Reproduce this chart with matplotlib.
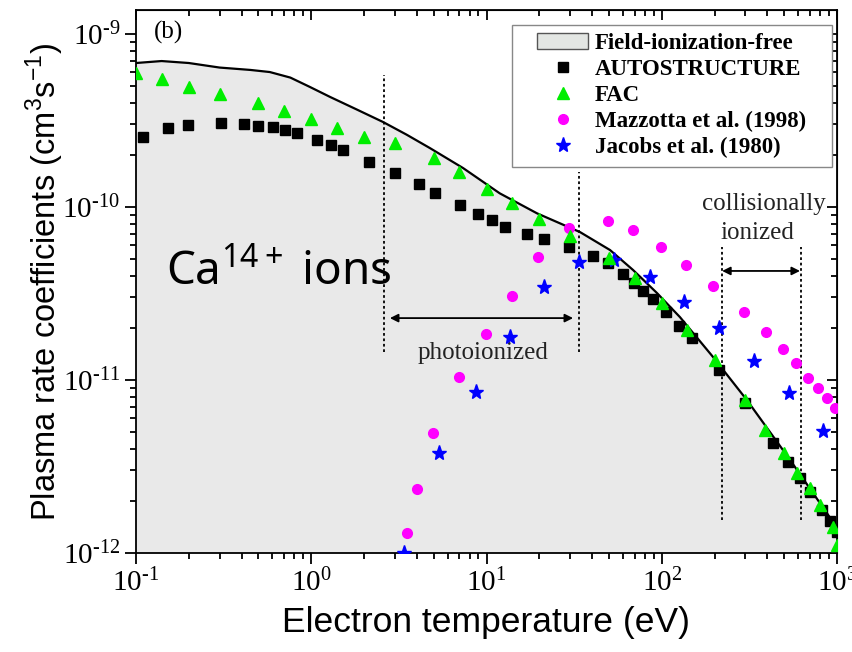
import numpy as np
import matplotlib
matplotlib.use('Agg')
from matplotlib import pyplot as plt
from matplotlib.ticker import NullFormatter, FuncFormatter

# 数据
curve_T = [0.1, 0.14, 0.2, 0.3, 0.45, 0.58, 0.76, 0.98, 1.28, 1.8, 2.57, 3.5,
           4.76, 7.35, 11.9, 19.4, 34.2, 50.7, 68.5, 94.0, 127, 196, 306, 540, 1000]
curve_k = [6.8e-10, 6.98e-10, 6.8e-10, 6.4e-10, 6.2e-10, 6.03e-10, 5.6e-10,
           4.95e-10, 4.33e-10, 3.68e-10, 3.10e-10, 2.62e-10, 2.19e-10, 1.68e-10,
           1.20e-10, 9.2e-11, 7.16e-11, 5.64e-11, 4.33e-11, 3.18e-11, 2.31e-11,
           1.36e-11, 7.66e-12, 3.45e-12, 1.40e-12]

auto_T = [0.11, 0.152, 0.198, 0.306, 0.413, 0.497, 0.605, 0.708, 0.83, 1.08, 1.30,
          1.52, 2.14, 3.0, 4.12, 5.09, 7.06, 8.94, 10.7, 12.8, 17.0, 21.3, 29.6,
          40.5, 49.4, 60.1, 69.5, 78.2, 89.2, 106, 125, 149, 212, 299, 431, 525,
          615, 701, 821, 912, 1000]
auto_k = [2.54e-10, 2.86e-10, 2.98e-10, 3.06e-10, 3.02e-10, 2.94e-10, 2.90e-10,
          2.79e-10, 2.68e-10, 2.44e-10, 2.28e-10, 2.13e-10, 1.82e-10, 1.57e-10,
          1.36e-10, 1.21e-10, 1.03e-10, 9.12e-11, 8.42e-11, 7.66e-11, 6.98e-11,
          6.53e-11, 5.87e-11, 5.21e-11, 4.75e-11, 4.10e-11, 3.64e-11, 3.27e-11,
          2.94e-11, 2.47e-11, 2.05e-11, 1.75e-11, 1.14e-11, 7.36e-12, 4.32e-12,
          3.36e-12, 2.72e-12, 2.25e-12, 1.77e-12, 1.53e-12, 1.32e-12]

fac_T = [0.1, 0.14, 0.2, 0.3, 0.5, 0.7, 1.0, 1.4, 2.0, 3.0, 5.0, 7.0, 10, 14, 20,
         30, 50, 70, 100, 140, 200, 300, 390, 500, 590, 700, 800, 950, 1000]
fac_k = [5.96e-10, 5.5e-10, 4.94e-10, 4.5e-10, 3.99e-10, 3.59e-10, 3.23e-10,
         2.86e-10, 2.54e-10, 2.34e-10, 1.92e-10, 1.59e-10, 1.27e-10, 1.05e-10,
         8.5e-11, 6.8e-11, 5.07e-11, 3.89e-11, 2.79e-11, 1.95e-11, 1.30e-11,
         7.66e-12, 5.14e-12, 3.79e-12, 2.90e-12, 2.37e-12, 1.89e-12, 1.41e-12,
         1.11e-12]

mazz_T = [3.52, 4.01, 4.95, 6.97, 9.93, 14.0, 19.7, 29.6, 49.4, 68.5, 99, 138,
          196, 294, 393, 492, 584, 683, 779, 877, 974]
mazz_k = [1.31e-12, 2.34e-12, 4.94e-12, 1.04e-11, 1.85e-11, 3.06e-11, 5.14e-11,
          7.57e-11, 8.30e-11, 7.36e-11, 5.87e-11, 4.62e-11, 3.49e-11, 2.47e-11,
          1.89e-11, 1.51e-11, 1.25e-11, 1.03e-11, 9.0e-12, 7.87e-12, 6.9e-12]

jac_T = [3.38, 5.36, 8.71, 13.6, 21.3, 33.7, 53.4, 85.8, 134, 212, 336, 532, 832]
jac_k = [1.0e-12, 3.79e-12, 8.53e-12, 1.77e-11, 3.45e-11, 4.81e-11, 4.94e-11,
         3.94e-11, 2.82e-11, 2.0e-11, 1.29e-11, 8.41e-12, 5.07e-12]

# 区域边界线
bound_T = [2.6, 33.7, 221, 624]
bound_lo = [1.45e-11, 1.45e-11, 1.55e-12, 1.55e-12]
bound_hi = [5.8e-10, 1.6e-10, 5.87e-11, 5.87e-11]


def pow_fmt(v, pos):
    e = int(round(np.log10(v)))
    return r'$\mathdefault{10^{%s}}$' % str(e).replace('-', '\u2010')


plt.rcParams['font.family'] = ['Liberation Serif', 'DejaVu Serif']
fig = plt.figure(figsize=(8.52, 6.52), dpi=100)
ax = fig.add_axes([136 / 852, 1 - 553 / 652, 701 / 852, 543 / 652])
ax.set_xscale('log')
ax.set_yscale('log')
ax.set_xlim(0.1, 1000)
ax.set_ylim(1e-12, 1.377e-9)
ax.xaxis.set_major_formatter(FuncFormatter(pow_fmt))
ax.yaxis.set_major_formatter(FuncFormatter(pow_fmt))

ymin = 1e-12
ax.fill_between(curve_T, curve_k, ymin, color='#e9e9e9', edgecolor='none', zorder=1)
ax.plot(curve_T, curve_k, 'k-', lw=1.6, zorder=3)
fill_handle = plt.Rectangle((0, 0), 1, 1, facecolor='#e3e6e3', edgecolor='#555555', lw=1)

ax.plot(auto_T, auto_k, 's', color='black', ms=6.5, ls='none', zorder=4,
        label='AUTOSTRUCTURE')
ax.plot(fac_T, fac_k, '^', color='#00ee00', ms=8, ls='none', zorder=5, label='FAC')
ax.plot(mazz_T, mazz_k, 'o', color='#ff00ff', ms=7, ls='none', zorder=4,
        label='Mazzotta et al. (1998)')
ax.plot(jac_T, jac_k, '*', color='#0000ff', ms=11, ls='none', zorder=4,
        label='Jacobs et al. (1980)')

ax.vlines(bound_T, bound_lo, bound_hi, colors='black', linestyles=(0, (1.5, 1.5)), lw=1.3, zorder=2)

arr = dict(arrowstyle='<|-|>', color='black', lw=1.3, mutation_scale=12,
           shrinkA=0, shrinkB=0)
ax.annotate('', xy=(2.81, 2.28e-11), xytext=(31.2, 2.28e-11), arrowprops=arr)
ax.annotate('', xy=(221, 4.27e-11), xytext=(615, 4.27e-11), arrowprops=arr)

ax.text(0.495, 0.368, 'photoionized', transform=ax.transAxes, fontsize=18,
        ha='center', va='center', color='#222222')
ax.text(0.896, 0.642, 'collisionally', transform=ax.transAxes, fontsize=18,
        ha='center', va='center', color='#222222')
ax.text(0.887, 0.589, 'ionized', transform=ax.transAxes, fontsize=18,
        ha='center', va='center', color='#222222')
ax.text(0.046, 0.958, '(b)', transform=ax.transAxes, fontsize=18,
        ha='center', va='center')
ax.text(0.043, 0.515, r'Ca$^{\mathdefault{14+}}$ ions', transform=ax.transAxes,
        fontsize=33, ha='left', va='center', family='Noto Sans')

# 图例: 单独画边框
box = plt.Rectangle((0.536, 0.711), 0.4565, 0.2615, transform=ax.transAxes,
                    facecolor='white', edgecolor='#888888', lw=1.0, zorder=6)
ax.add_patch(box)
handles, labels = ax.get_legend_handles_labels()
leg = ax.legend([fill_handle] + handles, ['Field-ionization-free'] + labels,
                loc='upper left', bbox_to_anchor=(0.572, 0.958), borderaxespad=0,
                frameon=False,
                prop={'family': 'Liberation Serif', 'weight': 'bold', 'size': 16.5},
                handlelength=2.23, labelspacing=0.22, borderpad=0, handletextpad=0.3)
leg.set_zorder(7)

ax.set_xlabel('Electron temperature (eV)', family='Liberation Sans', fontsize=25.5,
              labelpad=6)
ax.set_ylabel(r'Plasma rate coefficients (cm$^{\mathdefault{3}}$s$^{\mathdefault{-1}}$)',
              family='Liberation Sans', fontsize=23.5)
ax.yaxis.set_label_coords(-0.10, 0.5)

ax.tick_params(which='both', direction='out', labelsize=21, width=1.3)
ax.tick_params(which='major', length=8)
ax.tick_params(which='minor', length=4)
for s in ax.spines.values():
    s.set_linewidth(1.3)

# 上方与右侧的刻度 (向内)
top = ax.secondary_xaxis('top')
right = ax.secondary_yaxis('right')
top.tick_params(which='both', direction='in', width=1.3)
right.tick_params(which='both', direction='in', width=1.3)
top.tick_params(which='major', length=7)
top.tick_params(which='minor', length=4)
right.tick_params(which='major', length=7)
right.tick_params(which='minor', length=4)
for a in (top.xaxis, right.yaxis):
    a.set_major_formatter(NullFormatter())
    a.set_minor_formatter(NullFormatter())

fig.savefig('out.png', dpi=100)
